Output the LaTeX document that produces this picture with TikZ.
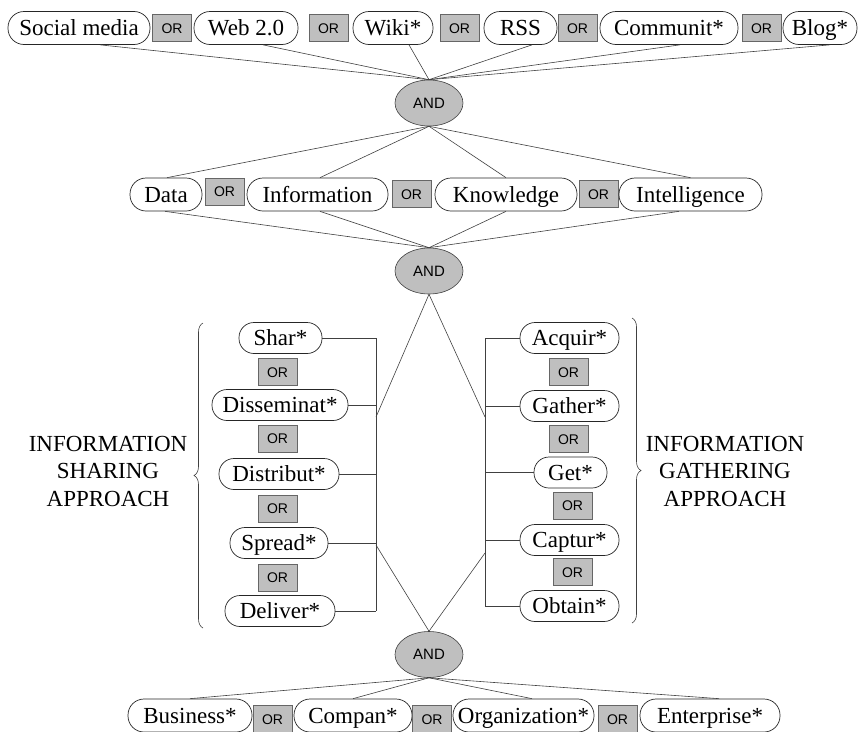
\documentclass[tikz,border=0pt]{standalone}
\usepackage{fontspec}
\setmainfont{Liberation Serif}
\setsansfont{Liberation Sans}
\usetikzlibrary{shapes.geometric,decorations.pathreplacing}
\begin{document}
\begin{tikzpicture}[x=1pt,y=-1pt,
  pill/.style={draw=black!85, line width=0.7pt, rounded corners=16pt, minimum height=33pt, inner sep=0pt,
    font=\fontsize{23}{27}\selectfont, text height=15pt, text depth=0pt, fill=white},
  midpill/.style={pill, minimum height=31pt, rounded corners=15pt},
  orbox/.style={draw=black!60, fill=black!25, line width=0.6pt, minimum width=39pt, minimum height=27pt,
    inner sep=0pt, font=\sffamily\fontsize{14}{16}\selectfont, text height=10pt, text depth=0pt},
  andnode/.style={ellipse, draw=black!75, fill=black!25, line width=0.6pt, minimum width=68pt,
    minimum height=46pt, inner sep=0pt, font=\sffamily\fontsize{15}{17}\selectfont, text height=10.7pt, text depth=0pt},
  conn/.style={draw=black!75, line width=0.6pt},
  bracestyle/.style={draw=black!75, line width=0.6pt, decorate, decoration={brace, amplitude=9pt}},
  sidetext/.style={font=\fontsize{23}{27.5}\selectfont, align=center},
]
\useasboundingbox (0,0) rectangle (858,731);
\clip (0,0) rectangle (858,731);

% ---- Row 1
\node[pill, minimum width=142pt] (sm) at (79,28) {Social media};
\node[orbox] (o1) at (172,28) {OR};
\node[pill, minimum width=104pt] (web) at (246,28) {Web 2.0};
\node[orbox] (o2) at (328.5,28) {OR};
\node[pill, minimum width=80pt] (wiki) at (393,28) {Wiki*};
\node[orbox] (o3) at (459.5,28) {OR};
\node[pill, minimum width=73pt] (rss) at (520.5,28) {RSS};
\node[orbox] (o4) at (577.5,28) {OR};
\node[pill, minimum width=138pt] (comm) at (669,28) {Communit*};
\node[orbox] (o5) at (761.5,28) {OR};
\node[pill, minimum width=74pt] (blog) at (820,28) {Blog*};

\node[andnode] (and1) at (429,103) {AND};

\draw[conn] ([xshift=21pt]sm.south) -- (and1.north);
\draw[conn] ([xshift=17pt]web.south) -- (and1.north);
\draw[conn] ([xshift=16pt]wiki.south) -- (and1.north);
\draw[conn] ([xshift=11.5pt]rss.south) -- (and1.north);
\draw[conn] ([xshift=11pt]comm.south) -- (and1.north);
\draw[conn] ([xshift=10pt]blog.south) -- (and1.north);

% ---- Row 2
\node[pill, minimum width=72pt] (data) at (166,194.5) {Data};
\node[orbox] (o6) at (224.5,191.5) {OR};
\node[pill, minimum width=141pt] (info) at (317.5,194.5) {Information};
\node[orbox] (o7) at (411.5,194) {OR};
\node[pill, minimum width=142pt] (know) at (506,194.5) {Knowledge};
\node[orbox] (o8) at (598.5,194) {OR};
\node[pill, minimum width=143pt] (intel) at (690.5,194.5) {Intelligence};

\node[andnode] (and2) at (429,271) {AND};

\draw[conn] (and1.south) -- ([xshift=1pt]data.north);
\draw[conn] (and1.south) -- ([xshift=2.5pt]info.north);
\draw[conn] (and1.south) -- (know.north);
\draw[conn] (and1.south) -- (intel.north);
\draw[conn] ([xshift=-1pt]data.south) -- (and2.north);
\draw[conn] ([xshift=2.5pt]info.south) -- (and2.north);
\draw[conn] (know.south) -- (and2.north);
\draw[conn] ([xshift=-11.5pt]intel.south) -- (and2.north);

% ---- Left column (sharing)
\node[midpill, minimum width=83pt] (shar) at (280.5,338) {Shar*};
\node[orbox] (o9) at (277.5,372) {OR};
\node[midpill, minimum width=136pt] (dis) at (280,405) {Disseminat*};
\node[orbox] (o10) at (277.5,438.5) {OR};
\node[midpill, minimum width=120pt] (distr) at (279,474) {Distribut*};
\node[orbox] (o11) at (277.5,508.5) {OR};
\node[midpill, minimum width=98pt] (spread) at (279,543) {Spread*};
\node[orbox] (o12) at (277.5,577.5) {OR};
\node[midpill, minimum width=110pt] (deliv) at (280,611) {Deliver*};

\coordinate (bl) at (376,0);
\draw[conn] (shar.east) -- (shar.east -| bl);
\draw[conn] (dis.east) -- (dis.east -| bl);
\draw[conn] (distr.east) -- (distr.east -| bl);
\draw[conn] (spread.east) -- (spread.east -| bl);
\draw[conn] (deliv.east) -- (deliv.east -| bl);
\draw[conn] (shar.east -| bl) -- (deliv.east -| bl);

% ---- Right column (gathering)
\node[midpill, minimum width=99pt] (acq) at (569.5,338) {Acquir*};
\node[orbox] (o13) at (568.5,372) {OR};
\node[midpill, minimum width=99pt] (gath) at (569.5,406) {Gather*};
\node[orbox] (o14) at (568.5,439) {OR};
\node[midpill, minimum width=73pt] (get) at (570.5,472.5) {Get*};
\node[orbox] (o15) at (572.5,505.5) {OR};
\node[midpill, minimum width=99pt] (capt) at (569.5,540) {Captur*};
\node[orbox] (o16) at (572.5,572) {OR};
\node[midpill, minimum width=99pt] (obt) at (569.5,606) {Obtain*};

\coordinate (br) at (485,0);
\draw[conn] (acq.west) -- (acq.west -| br);
\draw[conn] (gath.west) -- (gath.west -| br);
\draw[conn] (get.west) -- (get.west -| br);
\draw[conn] (capt.west) -- (capt.west -| br);
\draw[conn] (obt.west) -- (obt.west -| br);
\draw[conn] (acq.west -| br) -- (obt.west -| br);

% ---- Braces and side labels
\draw[bracestyle] (203,628) -- (203,323);
\draw[bracestyle] (632,318) -- (632,623);
\node[sidetext] (lbl1) at (108,471) {INFORMATION\\SHARING\\APPROACH};
\node[sidetext] (lbl2) at (725,471) {INFORMATION\\GATHERING\\APPROACH};

% ---- AND 3 and links to the columns
\node[andnode] (and3) at (429,654.5) {AND};

\coordinate (jl1) at (376,417);
\coordinate (jr1) at (485,417);
\coordinate (jl2) at (376,545);
\coordinate (jr2) at (485,553);
\draw[conn] (and2.south) -- (jl1);
\draw[conn] (and2.south) -- (jr1);
\draw[conn] (jl2) -- (and3.north);
\draw[conn] (jr2) -- (and3.north);

% ---- Bottom row
\node[pill, minimum width=124pt] (bus) at (190,715.5) {Business*};
\node[orbox] (o17) at (272.5,719) {OR};
\node[pill, minimum width=118pt] (comp) at (353,715.5) {Compan*};
\node[orbox] (o18) at (432,719) {OR};
\node[pill, minimum width=141pt] (org) at (523.5,715.5) {Organization*};
\node[orbox] (o19) at (617.5,719) {OR};
\node[pill, minimum width=140pt] (ent) at (710,715.5) {Enterprise*};

\draw[conn] (and3.south) -- (bus.north);
\draw[conn] (and3.south) -- (comp.north);
\draw[conn] (and3.south) -- ([xshift=8.5pt]org.north);
\draw[conn] (and3.south) -- ([xshift=9pt]ent.north);
\end{tikzpicture}
\end{document}
